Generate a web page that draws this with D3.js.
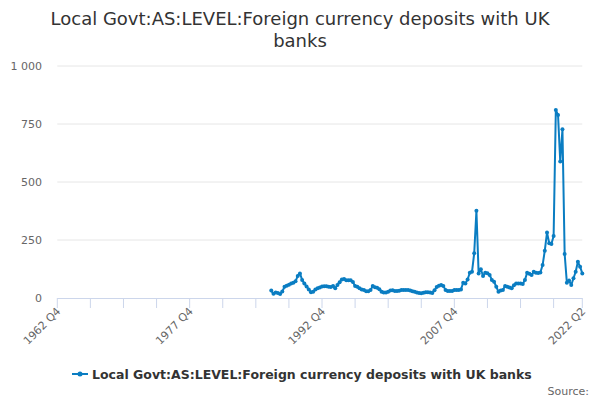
<!DOCTYPE html>
<html>
<head>
<meta charset="utf-8">
<script src="https://cdn.jsdelivr.net/npm/d3@7"></script>
<style>
  body { margin: 0; background: #fff; }
  text { font-family: "DejaVu Sans", sans-serif; }
</style>
</head>
<body>
<div id="chart"></div>
<script>
// quarters on the axis run from 1962 Q4 to 2022 Q2
const firstYear = 1962, firstQ = 4;
const lastYear = 2022, lastQ = 2;
const quarters = [];
for (let y = firstYear, q = firstQ; y < lastYear || (y === lastYear && q <= lastQ); ) {
    quarters.push(y + " Q" + q);
    q++;
    if (q > 4) { q = 1; y++; }
}

// series starts 1987 Q1
const seriesStart = "1987 Q1";
const values = [
    32, 18, 24, 22, 17, 28, 48, 53, 57, 62,
    66, 72, 95, 106, 78, 62, 50, 37, 25, 27,
    37, 42, 45, 50, 51, 51, 49, 47, 52, 42,
    56, 68, 80, 82, 76, 77, 76, 69, 52, 48,
    42, 37, 35, 29, 29, 34, 52, 46, 44, 38,
    27, 24, 24, 27, 32, 33, 30, 30, 31, 34,
    34, 34, 34, 32, 29, 27, 24, 22, 20, 23,
    25, 25, 24, 22, 33, 47, 53, 56, 52, 35,
    30, 30, 30, 34, 34, 35, 37, 66, 63, 80,
    109, 113, 193, 376, 106, 124, 95, 109, 107, 99,
    78, 70, 49, 27, 32, 35, 52, 48, 45, 42,
    55, 63, 63, 62, 60, 78, 109, 104, 99, 113,
    109, 108, 110, 142, 204, 282, 236, 233, 267, 810,
    789, 588, 727, 190, 66, 75, 56, 85, 113, 156,
    135, 106
];
const yTicks = [0, 250, 500, 750, 1000];
const labelQuarters = ["1962 Q4", "1977 Q4", "1992 Q4", "2007 Q4", "2022 Q2"];

const title = ["Local Govt:AS:LEVEL:Foreign currency deposits with UK", "banks"];
const seriesName = "Local Govt:AS:LEVEL:Foreign currency deposits with UK banks";

const width = 600;
const height = 400;
const marginLeft = 57.3;
const marginRight = 17.7;
const plotTop = 66;
const plotBottom = 298;
const color = "#0a7dc2";

const startIdx = quarters.indexOf(seriesStart);
const data = values.map((v, i) => ({ q: quarters[startIdx + i], v: v }));

const x = d3.scalePoint()
    .domain(quarters)
    .range([marginLeft, width - marginRight]);

const y = d3.scaleLinear()
    .domain([0, 1000])
    .range([plotBottom, plotTop]);

const svg = d3.select("#chart").append("svg")
    .attr("width", width)
    .attr("height", height);

// title
svg.append("text")
    .attr("x", 300)
    .attr("y", 25)
    .attr("text-anchor", "middle")
    .attr("fill", "#333")
    .style("font-size", "18px")
    .selectAll("tspan")
    .data(title)
    .join("tspan")
    .attr("x", 300)
    .attr("dy", (d, i) => i === 0 ? 0 : 22)
    .text(d => d);

// grid lines
svg.append("g")
    .selectAll("line")
    .data(yTicks.filter(d => d > 0))
    .join("line")
    .attr("x1", marginLeft)
    .attr("x2", width - marginRight)
    .attr("y1", d => y(d))
    .attr("y2", d => y(d))
    .attr("stroke", "#e6e6e6")
    .attr("stroke-width", 1);

// y labels
svg.append("g")
    .selectAll("text")
    .data(yTicks)
    .join("text")
    .attr("x", 42)
    .attr("y", d => y(d) + 4)
    .attr("text-anchor", "end")
    .attr("fill", "#666")
    .style("font-size", "11px")
    .text(d => d3.format(",")(d).replace(",", " "));

// x axis
const tickQuarters = quarters.filter((d, i) => i % 15 === 0 && i <= quarters.length - 10);
tickQuarters.push(quarters[quarters.length - 1]);

const xAxis = svg.append("g");
xAxis.append("line")
    .attr("x1", marginLeft)
    .attr("x2", width - marginRight)
    .attr("y1", plotBottom + 0.5)
    .attr("y2", plotBottom + 0.5)
    .attr("stroke", "#ccd6eb");

xAxis.selectAll(".tick")
    .data(tickQuarters)
    .join("line")
    .attr("x1", d => x(d))
    .attr("x2", d => x(d))
    .attr("y1", plotBottom)
    .attr("y2", plotBottom + 10)
    .attr("stroke", "#ccd6eb");

xAxis.selectAll(".lbl")
    .data(labelQuarters)
    .join("text")
    .attr("transform", d => `translate(${x(d) + 4},${plotBottom + 14}) rotate(-45)`)
    .attr("text-anchor", "end")
    .attr("fill", "#666")
    .style("font-size", "11px")
    .text(d => d);

// series
const line = d3.line()
    .x(d => x(d.q))
    .y(d => y(d.v));

svg.append("path")
    .datum(data)
    .attr("d", line)
    .attr("fill", "none")
    .attr("stroke", color)
    .attr("stroke-width", 2)
    .attr("stroke-linejoin", "round");

svg.append("g")
    .selectAll("circle")
    .data(data)
    .join("circle")
    .attr("cx", d => x(d.q))
    .attr("cy", d => y(d.v))
    .attr("r", 2)
    .attr("fill", color);

// legend
const legend = svg.append("g");
legend.append("line")
    .attr("x1", 72)
    .attr("x2", 88)
    .attr("y1", 374)
    .attr("y2", 374)
    .attr("stroke", color)
    .attr("stroke-width", 2);
legend.append("circle")
    .attr("cx", 80)
    .attr("cy", 374)
    .attr("r", 2.5)
    .attr("fill", color);
legend.append("text")
    .attr("x", 92)
    .attr("y", 378.5)
    .attr("fill", "#333")
    .style("font-size", "12.5px")
    .style("font-weight", "bold")
    .text(seriesName);

// source
svg.append("text")
    .attr("x", 589)
    .attr("y", 395)
    .attr("text-anchor", "end")
    .attr("fill", "#666")
    .style("font-size", "11px")
    .text("Source:");
</script>
</body>
</html>
